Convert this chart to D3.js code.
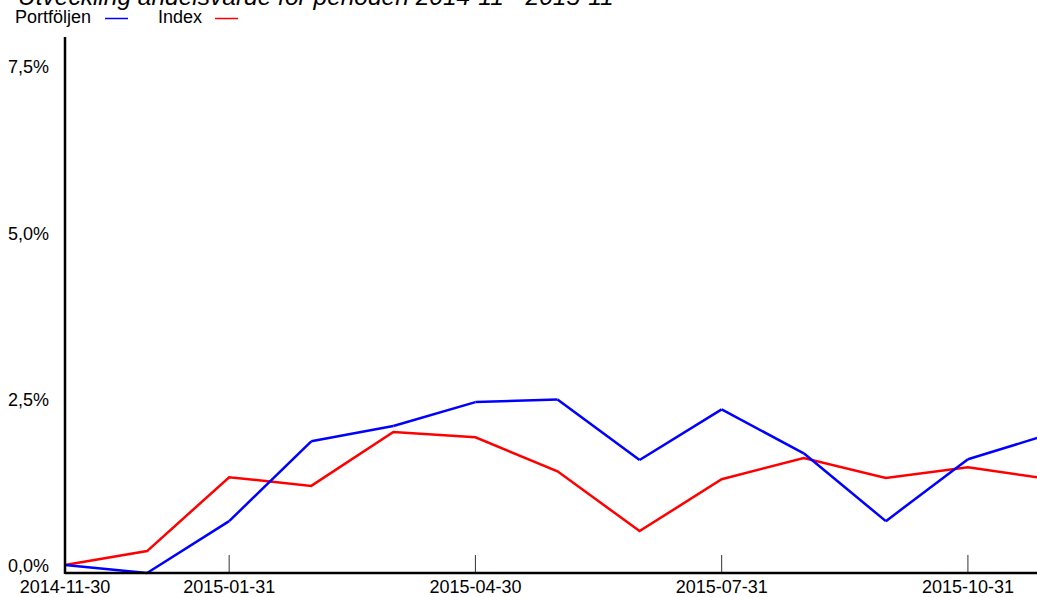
<!DOCTYPE html>
<html>
<head>
<meta charset="utf-8">
<script src="https://cdn.jsdelivr.net/npm/d3@7"></script>
<style>
  body { margin: 0; overflow: hidden; background: #fff; }
  text { font-family: "Liberation Sans", Arial, sans-serif; }
</style>
</head>
<body>
<div id="graph"></div>
<script>
var dates = ["2014-11-30", "2014-12-31", "2015-01-31", "2015-02-28", "2015-03-31", "2015-04-30",
             "2015-05-31", "2015-06-30", "2015-07-31", "2015-08-31", "2015-09-30", "2015-10-31", "2015-11-30"];
var portfolio = [0.00, -0.12, 0.66, 1.86, 2.09, 2.45, 2.49, 1.58, 2.34, 1.68, 0.66, 1.59, 1.97];
var index = [0.00, 0.21, 1.32, 1.19, 2.00, 1.92, 1.41, 0.51, 1.29, 1.61, 1.31, 1.47, 1.29];
var xTicks = ["2014-11-30", "2015-01-31", "2015-04-30", "2015-07-31", "2015-10-31"];
var yTicks = [0, 2.5, 5, 7.5];

var width = 1060, height = 597;
var plotLeft = 65, plotBottom = 573, plotTop = 37;

var x = d3.scalePoint()
    .domain(dates)
    .range([plotLeft, 1050]);
var y = d3.scaleLinear()
    .domain([-0.12, 7.94])
    .range([plotBottom, plotTop]);

var svg = d3.select("#graph").append("svg")
    .attr("width", width)
    .attr("height", height);

// title (clipped at the top of the picture)
svg.append("text")
    .attr("x", 18)
    .attr("y", 5)
    .style("font-size", "24.5px")
    .style("font-style", "italic")
    .text("Utveckling andelsvärde för perioden 2014-11 - 2015-11");

// legend
var legend = [{name: "Portföljen", color: "#0000ff", x: 15, lx: 105},
              {name: "Index", color: "#ff0000", x: 158, lx: 215}];
legend.forEach(function(l) {
  svg.append("text")
      .attr("x", l.x)
      .attr("y", 23)
      .style("font-size", "18px")
      .text(l.name);
  svg.append("line")
      .attr("x1", l.lx).attr("x2", l.lx + 23)
      .attr("y1", 18.5).attr("y2", 18.5)
      .style("stroke", l.color)
      .style("stroke-width", 1.5);
});

// x ticks
svg.selectAll(".xtick")
    .data(xTicks)
  .enter().append("line")
    .attr("class", "xtick")
    .attr("x1", function(d) { return x(d); })
    .attr("x2", function(d) { return x(d); })
    .attr("y1", plotBottom - 18)
    .attr("y2", plotBottom)
    .style("stroke", "#333")
    .style("stroke-width", 1);

svg.selectAll(".xlabel")
    .data(xTicks)
  .enter().append("text")
    .attr("class", "xlabel")
    .attr("x", function(d) { return x(d); })
    .attr("y", 593)
    .style("font-size", "18px")
    .style("text-anchor", "middle")
    .text(function(d) { return d; });

svg.selectAll(".ylabel")
    .data(yTicks)
  .enter().append("text")
    .attr("class", "ylabel")
    .attr("x", 49)
    .attr("y", function(d) { return y(d) + 7; })
    .style("font-size", "18px")
    .style("text-anchor", "end")
    .text(function(d) { return d3.format(".1f")(d).replace(".", ",") + "%"; });

// lines
var line = d3.line()
    .x(function(d, i) { return x(dates[i]); })
    .y(function(d) { return y(d); });

svg.append("path")
    .datum(index)
    .attr("d", line)
    .style("fill", "none")
    .style("stroke", "#ff0000")
    .style("stroke-width", 2.5);

// portfolio drawn as separate segments
var segs = d3.pairs(portfolio.map(function(v, i) { return [dates[i], v]; }));
svg.selectAll(".seg")
    .data(segs)
  .enter().append("line")
    .attr("class", "seg")
    .attr("x1", function(d) { return x(d[0][0]); })
    .attr("y1", function(d) { return y(d[0][1]); })
    .attr("x2", function(d) { return x(d[1][0]); })
    .attr("y2", function(d) { return y(d[1][1]); })
    .style("stroke", "#0000ff")
    .style("stroke-width", 2.5);

// axes
svg.append("line")
    .attr("x1", plotLeft).attr("x2", plotLeft)
    .attr("y1", plotTop).attr("y2", plotBottom + 1)
    .style("stroke", "#000")
    .style("stroke-width", 2.5);
svg.append("line")
    .attr("x1", plotLeft).attr("x2", width)
    .attr("y1", plotBottom).attr("y2", plotBottom)
    .style("stroke", "#000")
    .style("stroke-width", 2.5);
</script>
</body>
</html>
